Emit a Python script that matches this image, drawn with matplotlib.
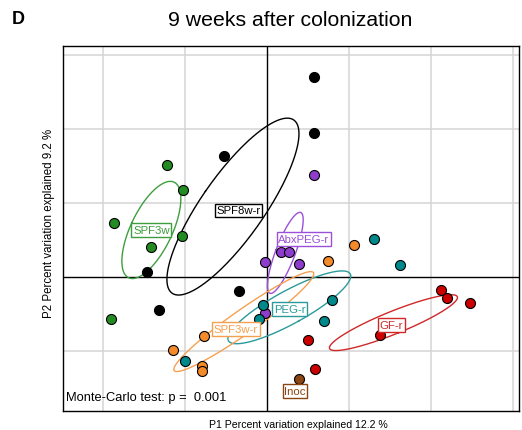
import numpy as np
import matplotlib
matplotlib.use("Agg")
import matplotlib.pyplot as plt

plt.rcParams['font.family'] = ['Liberation Sans', 'DejaVu Sans']

# ---- data (PCA coordinates, P1 / P2) ----
groups = ["SPF3w", "SPF8w-r", "AbxPEG-r", "PEG-r", "SPF3w-r", "GF-r", "Inoc"]

spf3w_x = [-1.216, -1.021, -1.862, -1.040, -1.418, -1.906]
spf3w_y = [1.514, 1.176, 0.730, 0.558, 0.409, -0.572]

spf8wr_x = [-0.524, 0.577, 0.573, -0.338, -1.321, -1.460]
spf8wr_y = [1.631, 2.703, 1.950, -0.193, -0.446, 0.064]

abxpegr_x = [0.577, 0.165, 0.265, -0.029, 0.390, -0.030]
abxpegr_y = [1.378, 0.334, 0.342, 0.207, 0.180, -0.486]

pegr_x = [1.299, 0.789, -0.045, -0.101, 0.695, -1.004]
pegr_y = [0.520, -0.311, -0.378, -0.568, -0.591, -1.131]

spf3wr_x = [-0.768, -1.150, -0.793, -0.793, 1.065, 0.740]
spf3wr_y = [-0.801, -0.986, -1.203, -1.274, 0.428, 0.220]

gfr_x = [2.118, 2.199, 2.472, 0.496, 1.378, 0.589]
gfr_y = [-0.176, -0.288, -0.351, -0.851, -0.788, -1.247]

inoc_x = [0.387]
inoc_y = [-1.374]

# extra teal sample outside the PEG-r ellipse computation
extra_x = [1.618]
extra_y = [0.162]

xs = [spf3w_x, spf8wr_x, abxpegr_x, pegr_x, spf3wr_x, gfr_x, inoc_x]
ys = [spf3w_y, spf8wr_y, abxpegr_y, pegr_y, spf3wr_y, gfr_y, inoc_y]

# label placement (data units)
label_x = [-1.409, -0.348, 0.451, 0.274, -0.378, 1.518, 0.341]
label_y = [0.635, 0.899, 0.514, -0.432, -0.703, -0.649, -1.541]

point_colors = ["#228B22", "#000000", "#8E3CCB", "#00898A", "#F58A2A", "#CC0000", "#8B4513"]
line_colors = ["#3E9E3E", "#000000", "#9B50D8", "#2A9A9A", "#F5A050", "#D02828", "#8B4513"]

# ---- figure ----
W, H = 522, 431
fig = plt.figure(figsize=(W / 100, H / 100), dpi=100)
ax = fig.add_axes([63 / W, 1 - 412 / H, (519 - 63) / W, (412 - 47) / H])

ax.set_xlim(-2.488, 3.073)
ax.set_ylim(-1.811, 3.122)

for g in [-2, -1, 1, 2, 3]:
    ax.axvline(g, color="#d4d4d4", lw=1.1, zorder=0)
for g in [-1, 1, 2, 3]:
    ax.axhline(g, color="#d4d4d4", lw=1.1, zorder=0)
ax.axvline(0, color="black", lw=1.0, zorder=1)
ax.axhline(0, color="black", lw=1.0, zorder=1)

t = np.linspace(0, 2 * np.pi, 200)
for gx, gy, lc in zip(xs, ys, line_colors):
    if len(gx) < 2:
        continue
    pts = np.vstack([gx, gy])
    m = pts.mean(axis=1)
    cov = np.cov(pts, bias=True)
    vals, vecs = np.linalg.eigh(cov)
    vals = np.clip(vals, 0, None)
    e = (m[:, None] + vecs[:, [0]] * np.sqrt(vals[0]) * np.cos(t)
         + vecs[:, [1]] * np.sqrt(vals[1]) * np.sin(t))
    ax.plot(e[0], e[1], color=lc, lw=1.0, zorder=2)

for gx, gy, pc in zip(xs, ys, point_colors):
    ax.scatter(gx, gy, s=52, c=pc, edgecolors="black", linewidths=0.8, zorder=3)
ax.scatter(extra_x, extra_y, s=52, c=point_colors[3], edgecolors="black",
           linewidths=0.8, zorder=3)

for name, lx, ly, lc in zip(groups, label_x, label_y, line_colors):
    ax.text(lx, ly, name, color=lc, fontsize=8.2, ha="center", va="center", zorder=5,
            bbox=dict(boxstyle="square,pad=0.15", fc="white", ec=lc, lw=1.0))

ax.text(0.007, 0.022, "Monte-Carlo test: p =  0.001", transform=ax.transAxes,
        fontsize=9.3, ha="left", va="bottom", zorder=6)

ax.set_xticks([])
ax.set_yticks([])
for sp in ax.spines.values():
    sp.set_linewidth(1.0)
    sp.set_color("black")

fig.text(290 / W, 1 - 20 / H, "9 weeks after colonization", fontsize=15.3,
         ha="center", va="center")
fig.text(12 / W, 1 - 19 / H, "D", fontsize=13, fontweight="bold", ha="left", va="center")
fig.text(298 / W, 1 - 425 / H, "P1 Percent variation explained 12.2 %", fontsize=7.6,
         ha="center", va="center")
fig.text(49 / W, 1 - 223 / H, "P2 Percent variation explained 9.2 %", fontsize=8.3,
         ha="center", va="center", rotation=90)

fig.savefig("out.png", dpi=100)
